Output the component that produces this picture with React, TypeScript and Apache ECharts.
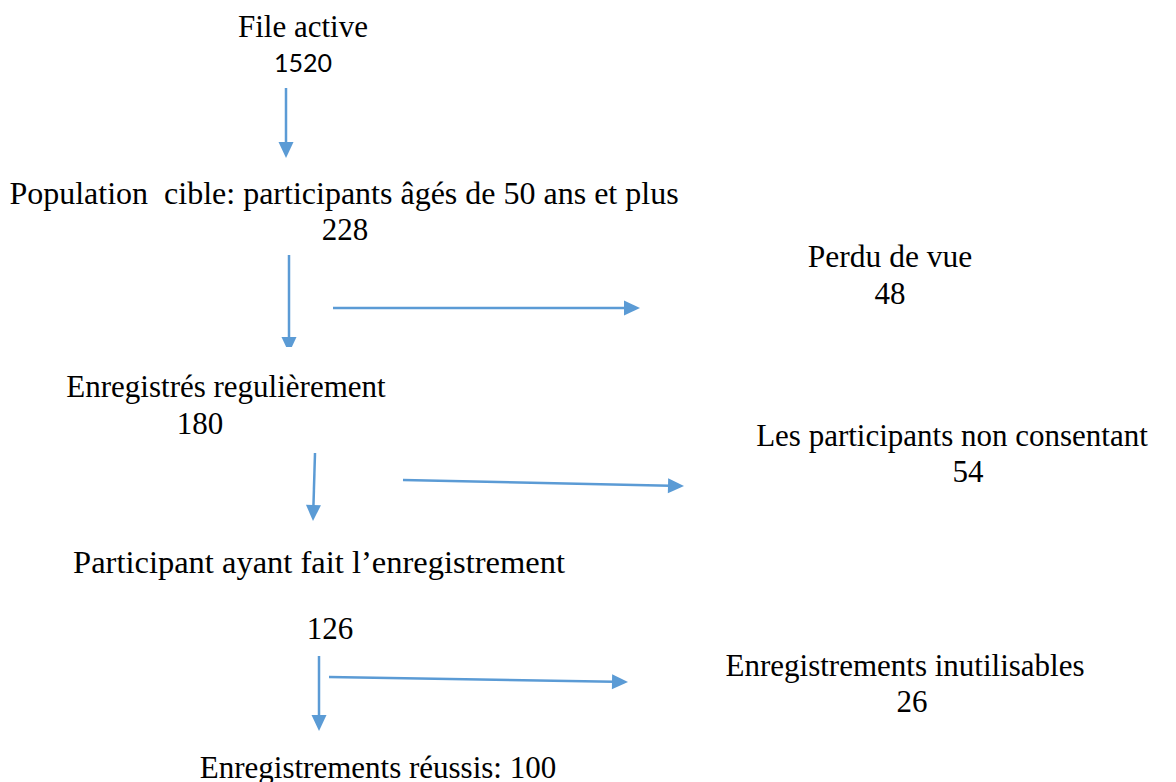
import React, { useEffect, useRef } from "react";
import * as echarts from "echarts";

const labels = [
  "File active",
  "Population\u00a0 cible: participants âgés de 50 ans et plus",
  "Perdu de vue",
  "Enregistrés regulièrement",
  "Les participants non consentant",
  "Participant ayant fait l\u2019enregistrement",
  "Enregistrements inutilisables",
  "Enregistrements réussis: 100",
];
const counts = ["1520", "228", "48", "180", "54", "126", "26", ""];

// layout: [labelX, labelY, countX, countY, labelFontSize]
const layout: number[][] = [
  [303, 26, 303, 62, 31],
  [344, 193, 345, 229, 32],
  [890, 256, 890, 293, 31.5],
  [226, 386, 200, 423, 31],
  [952, 435, 968, 471, 31],
  [319, 562, 330, 628, 32.5],
  [905, 665, 912, 701, 31],
  [378, 767, 0, 0, 31],
];

// arrows: [x1, y1, x2, y2, truncated]
const arrows: number[][] = [
  [286, 88, 286, 158, 0],
  [289, 255, 289, 353, 1],
  [333, 308, 640, 308, 0],
  [315, 453, 313, 521, 0],
  [403, 480, 684, 486, 0],
  [319, 656, 319, 731, 0],
  [329, 677, 628, 682, 0],
];

const BLUE = "#5b9bd5";

function arrowGraphics(a: number[]) {
  const [x1, y1, x2, y2, trunc] = a;
  const dx = x2 - x1;
  const dy = y2 - y1;
  const len = Math.sqrt(dx * dx + dy * dy);
  const ux = dx / len;
  const uy = dy / len;
  const px = -uy;
  const py = ux;
  const headLen = 16;
  const headW = 7.5;
  const bx = x2 - ux * headLen;
  const by = y2 - uy * headLen;
  const els: any[] = [
    {
      type: "line",
      shape: { x1, y1, x2: bx + ux * 2, y2: by + uy * 2 },
      style: { stroke: BLUE, lineWidth: 2.5 },
    },
  ];
  if (trunc) {
    const tx = x2 - ux * 6;
    const ty = y2 - uy * 6;
    const ratio = 6 / headLen;
    els.push({
      type: "polygon",
      shape: {
        points: [
          [bx + px * headW, by + py * headW],
          [tx + px * headW * ratio, ty + py * headW * ratio],
          [tx - px * headW * ratio, ty - py * headW * ratio],
          [bx - px * headW, by - py * headW],
        ],
      },
      style: { fill: BLUE },
    });
  } else {
    els.push({
      type: "polygon",
      shape: {
        points: [
          [x2, y2],
          [bx + px * headW, by + py * headW],
          [bx - px * headW, by - py * headW],
        ],
      },
      style: { fill: BLUE },
    });
  }
  return els;
}

export default function App() {
  const ref = useRef<HTMLDivElement>(null);
  useEffect(() => {
    if (!ref.current) return;
    const chart = echarts.init(ref.current, null, { renderer: "svg" });
    const elements: any[] = [];
    labels.forEach((t, i) => {
      const [lx, ly, cx, cy, fs] = layout[i];
      elements.push({
        type: "text",
        x: lx,
        y: ly,
        style: {
          text: t,
          fill: "#000",
          font: `${fs}px "Liberation Serif", "Times New Roman", serif`,
          textAlign: "center",
          textVerticalAlign: "middle",
        },
      });
      if (counts[i]) {
        elements.push({
          type: "text",
          x: cx,
          y: cy,
          style: {
            text: counts[i],
            fill: "#000",
            font:
              i === 0
                ? '25px Lato, "Open Sans", sans-serif'
                : '31px "Liberation Serif", "Times New Roman", serif',
            textAlign: "center",
            textVerticalAlign: "middle",
          },
        });
      }
    });
    arrows.forEach((a) => elements.push(...arrowGraphics(a)));
    chart.setOption({
      animation: false,
      backgroundColor: "#fff",
      graphic: { elements },
    });
    return () => chart.dispose();
  }, []);
  return (
    <div
      ref={ref}
      style={{ width: 1176, height: 782, position: "absolute", left: 0, top: 0 }}
    />
  );
}
